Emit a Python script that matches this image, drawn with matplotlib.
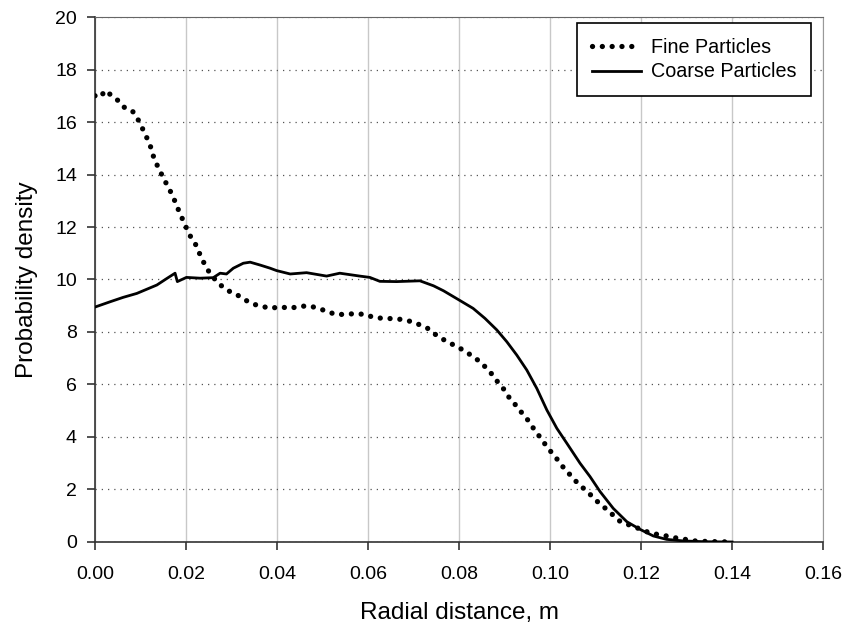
#!/usr/bin/env python3
import matplotlib
matplotlib.use("Agg")
import matplotlib.pyplot as plt

plt.rcParams["font.family"] = ["Liberation Sans", "DejaVu Sans"]

# Fine particles (dotted curve)
fine_x = [0.0, 0.0011, 0.0023, 0.0037, 0.0052, 0.0065, 0.0083, 0.0095, 0.0105, 0.0115,
          0.0124, 0.0130, 0.0141, 0.0151, 0.0162, 0.0172, 0.0180, 0.0189, 0.0198, 0.0207,
          0.0220, 0.0229, 0.0239, 0.0250, 0.0263, 0.0278, 0.0293, 0.0312, 0.0330, 0.0348,
          0.0367, 0.0385, 0.0407, 0.0429, 0.0449, 0.0473, 0.0492, 0.0510, 0.0528, 0.0550,
          0.0571, 0.0593, 0.0612, 0.0632, 0.0653, 0.0673, 0.0692, 0.0713, 0.0732, 0.0747,
          0.0764, 0.0781, 0.0798, 0.0814, 0.0831, 0.0846, 0.0860, 0.0874, 0.0887, 0.0901,
          0.0912, 0.0926, 0.0939, 0.0952, 0.0964, 0.0976, 0.0989, 0.1002, 0.1014, 0.1028,
          0.1041, 0.1054, 0.1068, 0.1081, 0.1095, 0.1111, 0.1126, 0.1140, 0.1155, 0.1174,
          0.1194, 0.1213, 0.1233, 0.1253, 0.1275, 0.1297, 0.1319, 0.1345, 0.1370, 0.1400]
fine_y = [17.0, 16.94, 17.2, 17.0, 16.8, 16.55, 16.4, 16.08, 15.73, 15.36,
          14.98, 14.59, 14.2, 13.84, 13.49, 13.14, 12.79, 12.43, 12.08, 11.72,
          11.38, 11.02, 10.65, 10.31, 10.02, 9.76, 9.57, 9.42, 9.22, 9.06,
          8.98, 8.90, 8.96, 8.90, 8.98, 8.99, 8.89, 8.79, 8.67, 8.67,
          8.70, 8.67, 8.56, 8.52, 8.51, 8.48, 8.41, 8.28, 8.13, 7.92,
          7.73, 7.57, 7.42, 7.26, 7.06, 6.87, 6.63, 6.36, 6.05, 5.77,
          5.45, 5.19, 4.90, 4.63, 4.32, 4.04, 3.73, 3.44, 3.19, 2.87,
          2.62, 2.36, 2.13, 1.93, 1.70, 1.42, 1.23, 1.00, 0.77, 0.65,
          0.52, 0.39, 0.30, 0.24, 0.16, 0.10, 0.04, 0.02, 0.01, 0.0]

# Coarse particles (solid curve)
coarse_x = [0.0, 0.0033, 0.0062, 0.0092, 0.0114, 0.0136, 0.0158, 0.0176, 0.0181, 0.0201,
            0.0231, 0.0260, 0.0275, 0.0289, 0.0304, 0.0326, 0.0341, 0.0363, 0.0385, 0.0399,
            0.0429, 0.0465, 0.0509, 0.0538, 0.0582, 0.0604, 0.0626, 0.0663, 0.0714, 0.0744,
            0.0766, 0.0802, 0.0831, 0.0857, 0.0883, 0.0905, 0.0927, 0.0949, 0.0971, 0.0993,
            0.1015, 0.1037, 0.1066, 0.1088, 0.1110, 0.1139, 0.1169, 0.1198, 0.1227, 0.1256,
            0.1293, 0.1340, 0.1400]
coarse_y = [8.95, 9.15, 9.32, 9.47, 9.63, 9.79, 10.04, 10.24, 9.92, 10.08,
            10.05, 10.07, 10.24, 10.21, 10.43, 10.62, 10.66, 10.55, 10.43, 10.34,
            10.21, 10.26, 10.13, 10.24, 10.13, 10.08, 9.93, 9.92, 9.95, 9.76,
            9.57, 9.20, 8.90, 8.52, 8.08, 7.63, 7.12, 6.55, 5.85, 5.03,
            4.33, 3.76, 3.00, 2.49, 1.92, 1.28, 0.77, 0.48, 0.23, 0.10,
            0.04, 0.01, 0.0]

x_ticks = [0.00, 0.02, 0.04, 0.06, 0.08, 0.10, 0.12, 0.14, 0.16]
y_ticks = [0, 2, 4, 6, 8, 10, 12, 14, 16, 18, 20]


def main():
    fig = plt.figure(figsize=(8.45, 6.3), dpi=100)
    ax = fig.add_axes([0.1124, 0.1397, 0.8616, 0.8333])

    ax.plot(fine_x, fine_y, color="black", linewidth=3.8,
            linestyle=(0, (0.01, 1.85)), dash_capstyle="round",
            label="Fine Particles", zorder=3)
    ax.plot(coarse_x, coarse_y, color="black", linewidth=2.0,
            label="Coarse Particles", zorder=3)

    ax.set_xlim(0, 0.16)
    ax.set_ylim(0, 20)
    ax.set_xticks(x_ticks)
    ax.set_xticklabels([f"{v:.2f}" for v in x_ticks])
    ax.set_yticks(y_ticks)

    # vertical grid solid light gray, horizontal grid dotted
    ax.xaxis.grid(True, color="#c8c8c8", linewidth=1.0, linestyle="-")
    ax.yaxis.grid(True, color="#555555", linewidth=0.9, linestyle=(0, (1, 4)))
    ax.set_axisbelow(True)

    for s in ["left", "bottom"]:
        ax.spines[s].set_color("#333333")
        ax.spines[s].set_linewidth(1.2)
    ax.spines["top"].set_color("#666666")
    ax.spines["right"].set_color("#999999")

    ax.tick_params(axis="both", direction="out", length=6, width=1.2,
                   color="#333333", labelsize=14)
    ax.tick_params(axis="x", pad=11)
    ax.tick_params(axis="y", pad=7)

    ax.set_xlabel("Radial distance, m", fontsize=17.5, labelpad=14)
    ax.set_ylabel("Probability density", fontsize=17.5, labelpad=12)

    leg = ax.legend(loc="upper right", bbox_to_anchor=(0.9835, 0.989),
                    fontsize=14.2, frameon=True, fancybox=False,
                    handlelength=2.5, borderpad=0.75, labelspacing=0.3,
                    handletextpad=0.5, borderaxespad=0.0)
    leg.get_frame().set_edgecolor("black")
    leg.get_frame().set_linewidth(1.2)
    leg.get_frame().set_alpha(1.0)

    fig.savefig("out.png", dpi=100)
    plt.close(fig)


if __name__ == "__main__":
    main()
